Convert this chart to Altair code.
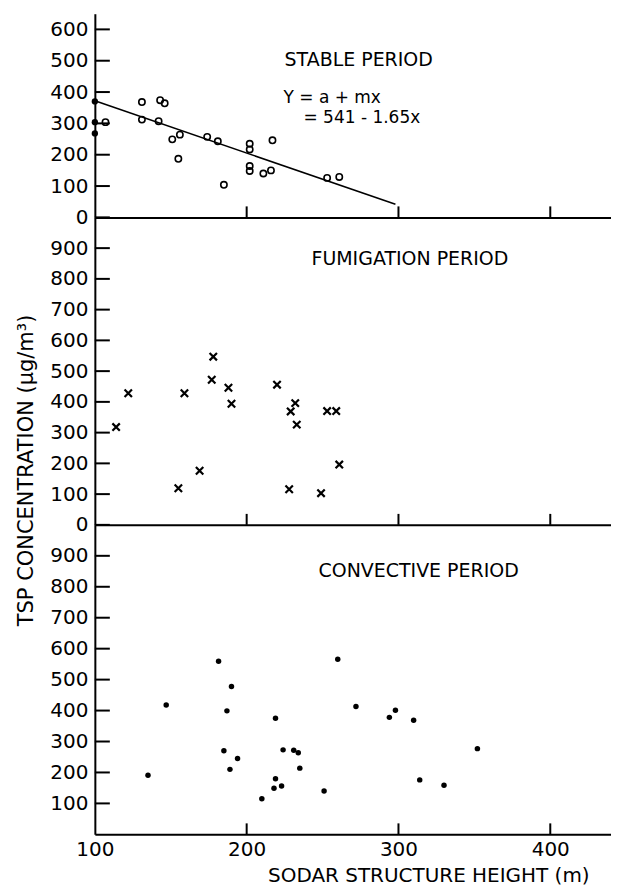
import altair as alt
import pandas as pd

# ---------------- data ----------------
stable_x = [100, 100, 100, 107, 131, 131, 143, 146, 142, 151, 156, 155, 174, 181,
            185, 202, 202, 202, 202, 211, 216, 217, 253, 261]
stable_y = [370, 304, 268, 304, 368, 312, 374, 364, 307, 249, 264, 187, 257, 243,
            104, 235, 217, 164, 148, 140, 150, 246, 126, 129]
stable_filled = [True, True, True] + [False] * 21

fit_x = [100, 298]
fit_y = [372, 42]

fum_x = [114, 122, 155, 159, 169, 178, 177, 188, 190, 220, 232, 229, 233, 228,
         249, 253, 259, 261]
fum_y = [318, 428, 119, 428, 176, 547, 472, 446, 394, 456, 396, 369, 326, 116,
         103, 370, 370, 196]

conv_x = [135, 147, 181.5, 190, 187, 185, 194, 189, 219, 224, 231, 234, 235, 219,
          218, 223, 210, 251, 260, 272, 294, 298, 310, 314, 330, 352]
conv_y = [191, 418, 559, 478, 399, 270, 245, 210, 375, 273, 272, 264, 214, 180,
          149, 156, 115, 140, 566, 413, 378, 401, 369, 176, 159, 277]

x_tick_values = [200, 300, 400]
x_label_values = [100, 200, 300, 400]
y_ticks_top = [0, 100, 200, 300, 400, 500, 600]
y_ticks_mid = [0, 100, 200, 300, 400, 500, 600, 700, 800, 900]
y_ticks_bot = [100, 200, 300, 400, 500, 600, 700, 800, 900]

x_title = "SODAR STRUCTURE HEIGHT (m)"
y_title = "TSP CONCENTRATION (μg/m³)"
stable_label = "STABLE PERIOD"
eq1 = "Y = a + mx"
eq2 = "= 541 - 1.65x"
fum_label = "FUMIGATION PERIOD"
conv_label = "CONVECTIVE PERIOD"

# ---------------- styling ----------------
FONT = "DejaVu Sans"
W = 517
H_TOP, H_MID, H_BOT = 204, 308, 310
XDOM = [100, 440]
TICKFONT = 20

xscale = alt.Scale(domain=XDOM, nice=False, zero=False)


def x_axis(bottom=False):
    if bottom:
        return alt.Axis(values=x_label_values, ticks=False, grid=False, labelPadding=5,
                        labelFlush=False, domainColor="black", domainWidth=2,
                        labelFontSize=TICKFONT, labelFont=FONT, labelColor="black",
                        title=x_title, titleFont=FONT, titleFontSize=20,
                        titleFontWeight="normal", titleColor="black", titleX=334,
                        titleAlign="center", titlePadding=6)
    return alt.Axis(labels=False, ticks=False, grid=False, domainColor="black",
                    domainWidth=2, title=None)


def y_axis(values, title=None):
    kw = dict(values=values, ticks=False, grid=False, labelPadding=7,
              domainColor="black", domainWidth=2, labelFontSize=TICKFONT,
              labelFont=FONT, labelColor="black")
    if title:
        kw.update(title=title, titleFont=FONT, titleFontSize=21,
                  titleFontWeight="normal", titleColor="black", titleX=-68,
                  titleY=253, titleAlign="center", titleBaseline="middle")
    else:
        kw.update(title=None)
    return alt.Axis(**kw)


def panel(points_layers, ydom, yticks, h, bottom=False, title=None, extra=None):
    yscale = alt.Scale(domain=ydom, nice=False)
    xa = x_axis(bottom)
    ya = y_axis(yticks, title)
    layers = []
    for df, mark in points_layers:
        layers.append(alt.Chart(df).mark_point(**mark).encode(
            x=alt.X("x:Q", scale=xscale, axis=xa),
            y=alt.Y("y:Q", scale=yscale, axis=ya)))
    if extra:
        for e in extra:
            layers.append(e(xa, ya, yscale))
    # inward y ticks
    layers.append(alt.Chart(pd.DataFrame({"y": yticks})).mark_rule(
        color="black", strokeWidth=2).encode(
        y=alt.Y("y:Q", scale=yscale, axis=ya), x=alt.value(0), x2=alt.value(15)))
    # inward x ticks
    layers.append(alt.Chart(pd.DataFrame({"x": x_tick_values})).mark_rule(
        color="black", strokeWidth=2).encode(
        x=alt.X("x:Q", scale=xscale, axis=xa), y=alt.value(h - 11), y2=alt.value(h)))
    return alt.layer(*layers).properties(width=W, height=h)


def label(text, px, py, size=19):
    def f(xa, ya, yscale):
        return alt.Chart(pd.DataFrame({"t": [text]})).mark_text(
            align="left", baseline="alphabetic", font=FONT, fontSize=size,
            color="black").encode(x=alt.value(px), y=alt.value(py), text="t:N")
    return f


def fit_line(xa, ya, yscale):
    return alt.Chart(pd.DataFrame({"x": fit_x, "y": fit_y})).mark_line(
        color="black", strokeWidth=1.6).encode(
        x=alt.X("x:Q", scale=xscale, axis=xa),
        y=alt.Y("y:Q", scale=yscale, axis=ya))


stable_df = pd.DataFrame({"x": stable_x, "y": stable_y, "f": stable_filled})
open_df = stable_df[~stable_df["f"]]
fill_df = stable_df[stable_df["f"]]

top = panel(
    [(open_df, dict(shape="circle", filled=False, size=40, strokeWidth=1.6,
                    color="black", opacity=1)),
     (fill_df, dict(shape="circle", filled=True, size=40, color="black", opacity=1))],
    [0, 650], y_ticks_top, H_TOP,
    extra=[fit_line, label(stable_label, 190, 52), label(eq1, 189, 89, 17),
           label(eq2, 209, 109, 17)])

XSHAPE = "M-1,-1L1,1M-1,1L1,-1"
mid = panel(
    [(pd.DataFrame({"x": fum_x, "y": fum_y}),
      dict(shape=XSHAPE, filled=False, size=55, strokeWidth=2.2, color="black",
           opacity=1))],
    [0, 1000], y_ticks_mid, H_MID, title=y_title,
    extra=[label(fum_label, 217, 48)])

bot = panel(
    [(pd.DataFrame({"x": conv_x, "y": conv_y}),
      dict(shape="circle", filled=True, size=30, color="black", opacity=1))],
    [0, 1000], y_ticks_bot, H_BOT, bottom=True,
    extra=[label(conv_label, 224, 52)])

chart = alt.vconcat(top, mid, bot, spacing=0, bounds="flush").properties(
    padding={"left": 8, "top": 5, "right": 0, "bottom": 0},
    background="white"
).configure_view(stroke=None)

chart.save("out.html", embed_options={"renderer": "svg", "actions": False})
